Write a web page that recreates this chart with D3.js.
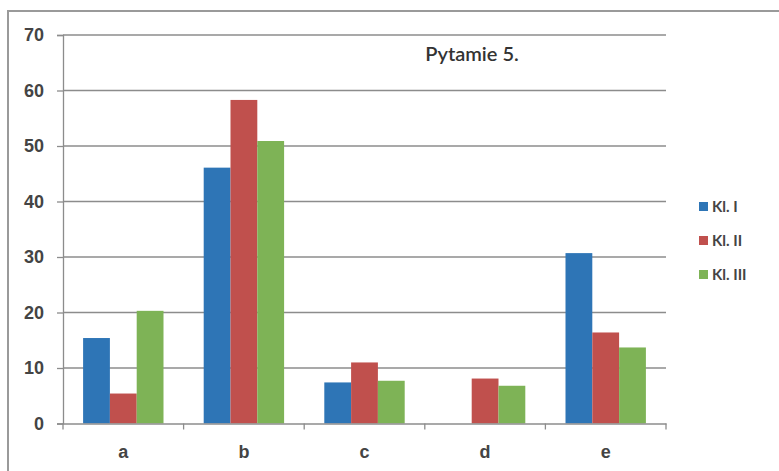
<!DOCTYPE html>
<html>
<head>
<meta charset="utf-8">
<script src="https://cdn.jsdelivr.net/npm/d3@7"></script>
<style>
  body { margin: 0; background: #fff; }
  svg { display: block; font-family: Lato, "Open Sans", sans-serif; }
</style>
</head>
<body>
<svg id="chart" width="779" height="471"></svg>
<script>
// values
var categories = ["a", "b", "c", "d", "e"];
var seriesNames = ["Kl. I", "Kl. II", "Kl. III"];
var klI   = [15.4, 46.1, 7.4, 0, 30.7];
var klII  = [5.4, 58.3, 11.0, 8.1, 16.4];
var klIII = [20.3, 50.9, 7.7, 6.8, 13.7];
var yTicks = [0, 10, 20, 30, 40, 50, 60, 70];
var colors = ["#2e75b6", "#c0504d", "#7eb356"];

var series = [klI, klII, klIII];
var svg = d3.select("#chart");

// outer frame (only top and left edges are visible)
svg.append("path")
  .attr("d", "M8,471V11H779")
  .attr("fill", "none")
  .attr("stroke", "#9a9a9a")
  .attr("stroke-width", 2);

var plotL = 63, plotR = 666, plotT = 35, plotB = 423.5;

var x = d3.scaleBand().domain(categories).range([plotL, plotR]);
var x1 = d3.scaleBand().domain(d3.range(series.length))
  .range([0, x.bandwidth()]).paddingOuter(0.75).paddingInner(0);
var y = d3.scaleLinear().domain([0, 70]).range([plotB, plotT]);

// grid lines
svg.append("g").selectAll("line")
  .data(yTicks.filter(function(d){ return d > 0; }))
  .enter().append("line")
  .attr("x1", plotL).attr("x2", plotR)
  .attr("y1", function(d){ return y(d); })
  .attr("y2", function(d){ return y(d); })
  .attr("stroke", "#8c8c8c")
  .attr("stroke-width", 1.3);

// bars
var groups = svg.append("g").selectAll("g")
  .data(series).enter().append("g")
  .attr("fill", function(d, i){ return colors[i]; });

groups.each(function(vals, si) {
  d3.select(this).selectAll("rect")
    .data(vals).enter().append("rect")
    .attr("x", function(d, i){ return x(categories[i]) + x1(si); })
    .attr("width", x1.bandwidth())
    .attr("y", function(d){ return y(d); })
    .attr("height", function(d){ return plotB - y(d); });
});

// y axis
var yAxis = svg.append("g")
  .attr("transform", "translate(" + plotL + ",0)")
  .call(d3.axisLeft(y).tickValues(yTicks).tickSize(6).tickPadding(13));
yAxis.select(".domain").attr("stroke", "#8c8c8c").attr("stroke-width", 1.3);
yAxis.selectAll(".tick line").attr("stroke", "#8c8c8c").attr("stroke-width", 1.3);
yAxis.selectAll("text")
  .attr("fill", "#444")
  .style("font-size", "18px")
  .style("font-weight", "600");

// x axis
var xAxis = svg.append("g")
  .attr("transform", "translate(0," + plotB + ")")
  .call(d3.axisBottom(x).tickSize(0).tickPadding(22));
xAxis.select(".domain").attr("stroke", "#8c8c8c").attr("stroke-width", 1.3);
xAxis.selectAll("text")
  .attr("fill", "#444")
  .style("font-size", "18px")
  .style("font-weight", "600");
// category separator ticks
svg.append("g").selectAll("line")
  .data(d3.range(categories.length + 1))
  .enter().append("line")
  .attr("x1", function(i){ return plotL + i * x.step(); })
  .attr("x2", function(i){ return plotL + i * x.step(); })
  .attr("y1", plotB).attr("y2", plotB + 6)
  .attr("stroke", "#8c8c8c")
  .attr("stroke-width", 1.3);

// title
svg.append("text")
  .attr("x", 472).attr("y", 61)
  .attr("text-anchor", "middle")
  .attr("fill", "#333")
  .style("font-size", "20px")
  .style("font-weight", "600")
  .text("Pytamie 5.");

// legend
var legend = svg.append("g").selectAll("g")
  .data(seriesNames).enter().append("g")
  .attr("transform", function(d, i){ return "translate(699," + (207 + i * 34) + ")"; });
legend.append("rect")
  .attr("x", 0).attr("y", -5)
  .attr("width", 9).attr("height", 9)
  .attr("fill", function(d, i){ return colors[i]; });
legend.append("text")
  .attr("x", 13).attr("y", 5)
  .attr("fill", "#444")
  .style("font-size", "15px")
  .style("font-weight", "700")
  .text(function(d){ return d; });
</script>
</body>
</html>
